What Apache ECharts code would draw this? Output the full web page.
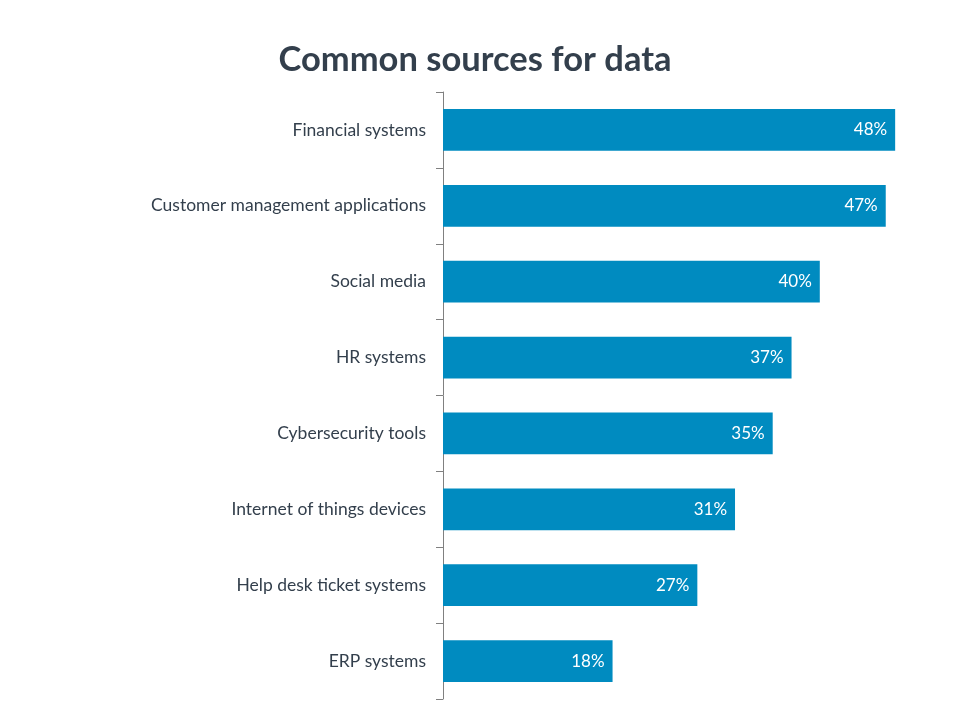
<!DOCTYPE html>
<html>
<head>
<meta charset="utf-8">
<script src="https://cdn.jsdelivr.net/npm/echarts@6/dist/echarts.min.js"></script>
<style>html,body{margin:0;padding:0;background:#fff}#c{width:960px;height:720px}</style>
</head>
<body>
<div id="c"></div>
<script>
const categories = ["Financial systems","Customer management applications","Social media","HR systems","Cybersecurity tools","Internet of things devices","Help desk ticket systems","ERP systems"];
const values = [48,47,40,37,35,31,27,18];

const chart = echarts.init(document.getElementById('c'));
chart.setOption({
  animation: false,
  title: {
    text: 'Common sources for data',
    left: 470, top: 37, textAlign: 'center',
    textStyle: {fontFamily: 'Lato', fontWeight: 'bold', fontSize: 34.5, color: '#333F4C'}
  },
  grid: {left: 443, top: 92, width: 471, height: 607},
  xAxis: {type: 'value', min: 0, max: 50, show: false},
  yAxis: {
    type: 'category', data: categories, inverse: true,
    axisLine: {lineStyle: {color: '#808080', width: 1}},
    axisTick: {show: true, length: 7, lineStyle: {color: '#808080'}},
    axisLabel: {margin: 17, fontFamily: 'Lato', fontSize: 17.5, color: '#333F4C'}
  },
  series: [{
    type: 'bar', data: values, barWidth: '55%',
    itemStyle: {color: '#008BC0'},
    label: {show: true, position: 'insideRight', distance: 8, formatter: '{c}%', color: '#fff', fontFamily: 'Lato', fontSize: 17}
  }]
});
</script>
</body>
</html>
